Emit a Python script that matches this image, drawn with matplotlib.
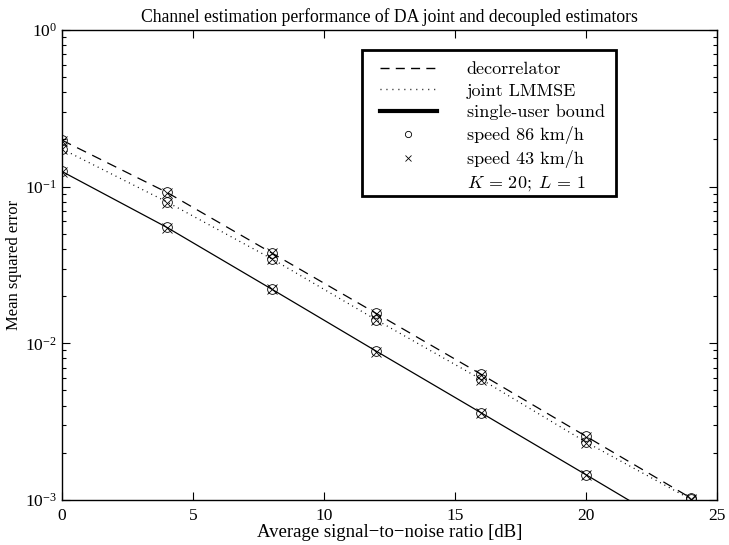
import matplotlib
matplotlib.use("Agg")
import matplotlib.pyplot as plt
from matplotlib.lines import Line2D
from matplotlib.patches import Rectangle
from matplotlib.font_manager import FontProperties
from matplotlib.ticker import LogLocator, NullFormatter

plt.rcParams['font.family'] = ['Liberation Serif', 'DejaVu Serif']
plt.rcParams['mathtext.fontset'] = 'stix'

# SNR [dB]
snr = [0, 4, 8, 12, 16, 20, 24]

# mean squared error, speed 86 km/h
decorr_86 = [0.198, 0.092, 0.0378, 0.0155, 0.00634, 0.00255, 0.00103]
lmmse_86 = [0.174, 0.080, 0.0347, 0.0141, 0.00589, 0.00234, 0.00101]
single_86 = [0.125, 0.055, 0.0222, 0.0089, 0.0036, 0.00145, 0.00058]

# mean squared error, speed 43 km/h
decorr_43 = [0.197, 0.091, 0.0376, 0.0154, 0.00630, 0.00253, 0.00102]
lmmse_43 = [0.173, 0.079, 0.0345, 0.0140, 0.00585, 0.00232, 0.00100]
single_43 = [0.124, 0.0545, 0.0221, 0.0088, 0.00358, 0.00144, 0.00058]

fig = plt.figure(figsize=(7.29, 5.45), dpi=100)
ax = fig.add_axes([0.085, 0.0826, 0.8985, 0.8624])

lw = 0.9
ax.plot(snr, decorr_86, color='k', lw=lw, dashes=(8, 5.5))
ax.plot(snr, lmmse_86, color='k', lw=lw, dashes=(0.8, 3.2))
ax.plot(snr, single_86, color='k', lw=lw, ls='-')

for ys in (decorr_86, lmmse_86, single_86):
    ax.plot(snr, ys, ls='none', marker='o', ms=7, mfc='none', mec='k', mew=0.6)
for ys in (decorr_43, lmmse_43, single_43):
    ax.plot(snr, ys, ls='none', marker='x', ms=7, mec='k', mew=0.6)

ax.set_yscale('log')
ax.set_xlim(0, 25)
ax.set_ylim(1e-3, 1)
ax.set_xticks([0, 5, 10, 15, 20, 25])
ax.yaxis.set_minor_locator(LogLocator(base=10, subs=range(2, 10)))
ax.yaxis.set_minor_formatter(NullFormatter())
ax.tick_params(which='both', direction='in', top=True, right=True, labelsize=12.5)
ax.tick_params(which='major', length=6, width=0.8)
ax.tick_params(which='minor', length=3, width=0.8)
ax.tick_params(axis='x', pad=6)
for s in ax.spines.values():
    s.set_linewidth(1.0)

ax.set_title('Channel estimation performance of DA joint and decoupled estimators',
             fontsize=12.7, pad=6)
ax.set_xlabel('Average signal\u2212to\u2212noise ratio [dB]', fontsize=13.5, labelpad=0)
ax.set_ylabel('Mean squared error', fontsize=12, labelpad=2)

# legend (frame drawn separately)
handles = [
    Line2D([], [], color='k', lw=1.0, dashes=(6.5, 4.5)),
    Line2D([], [], color='k', lw=1.0, dashes=(0.7, 3.6)),
    Line2D([], [], color='k', lw=3.0),
    Line2D([], [], ls='none', marker='o', ms=4.5, mfc='none', mec='k', mew=0.6),
    Line2D([], [], ls='none', marker='x', ms=4.5, mec='k', mew=0.6),
    Line2D([], [], ls='none'),
]
labels = ['decorrelator', 'joint LMMSE', 'single-user bound',
          'speed 86 km/h', 'speed 43 km/h', r'$K\,=\,20;\;L\,=\,1$']
prop = FontProperties(family='cmr10', size=13, math_fontfamily='cm')
leg = ax.legend(handles, labels, loc='upper left', bbox_to_anchor=(0.4855, 0.933),
                prop=prop, frameon=False, handlelength=3.15, handletextpad=1.66,
                labelspacing=0.33, borderpad=0, borderaxespad=0)
leg.set_zorder(6)
ax.add_patch(Rectangle((0.458, 0.647), 0.388, 0.310, transform=ax.transAxes,
                       fill=False, ec='k', lw=2.0, zorder=4))

fig.savefig('out.png', dpi=100)
